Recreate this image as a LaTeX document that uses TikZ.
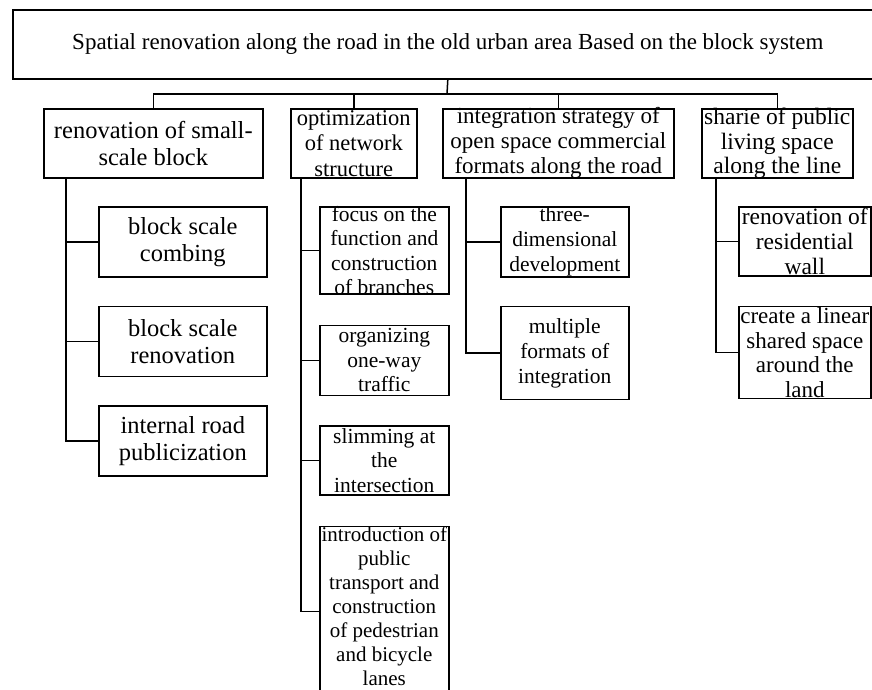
\documentclass[tikz,border=0pt]{standalone}
\usepackage{fontspec}
\setmainfont{Liberation Serif}
\usetikzlibrary{positioning}
\newcommand{\cellbox}[4][c]{\parbox[c][#3][#1]{#2}{\centering #4}}
\tikzset{
  basic/.style = {draw, rectangle, line width=1.6pt, inner sep=0pt, fill=white},
  sz/.style 2 args = {font=\fontsize{#1}{#2}\selectfont},
  root/.style  = {basic, sz={23}{27}},
  link/.style  = {draw, line width=1.5pt}
}

\begin{document}
\begin{tikzpicture}[x=1pt, y=-1pt]
\path[use as bounding box, fill=white] (0,0) rectangle (872,689);

% root of the chart
\node[root, anchor=north west] (root) at (12,9)
  {\cellbox{870pt}{69pt}{Spatial renovation along the road in the old urban area Based on the block system}};

% the four strategies
\node[basic, sz={24.5}{27}, anchor=north west] (h1) at (43,108)
  {\cellbox{219pt}{69pt}{renovation of small-\\scale block}};
\node[basic, sz={22.5}{25.5}, anchor=north west] (h2) at (290,108)
  {\cellbox{126pt}{69pt}{optimization\\of network\\structure}};
\node[basic, sz={23}{25}, anchor=north west] (h3) at (442,108)
  {\cellbox{231pt}{69pt}{integration strategy of\\open space commercial\\formats along the road}};
\node[basic, sz={23.5}{24.5}, anchor=north west] (h4) at (701,108)
  {\cellbox{151pt}{69pt}{sharie of public\\living space\\along the line}};

% measures, chained below each other
\begin{scope}[every node/.style={basic, sz={24.5}{27}}]
  \node[anchor=north west] (c11) at (98,206) {\cellbox{168pt}{70pt}{block scale\\combing}};
  \node[below=28pt of c11] (c12) {\cellbox{168pt}{70pt}{block scale\\renovation}};
  \node[below=28pt of c12] (c13) {\cellbox{168pt}{70pt}{internal road\\publicization}};
\end{scope}

\begin{scope}[every node/.style={basic, sz={21.5}{24.5}}]
  \node[anchor=north west] (c21) at (319,206) {\cellbox{129pt}{87pt}{focus on the\\function and\\construction\\of branches}};
  \node[below=30pt of c21] (c22) {\cellbox{129pt}{70pt}{organizing\\one-way\\traffic}};
  \node[below=29pt of c22] (c23) {\cellbox{129pt}{69pt}{slimming at\\the\\intersection}};
  \node[below=30pt of c23, sz={21}{24}] (c24) {\cellbox[t]{129pt}{170pt}{introduction of\\public\\transport and\\construction\\of pedestrian\\and bicycle\\lanes}};
\end{scope}

\begin{scope}[every node/.style={basic, sz={21.5}{25}}]
  \node[anchor=north west] (c31) at (500,206) {\cellbox{128pt}{70pt}{three-\\dimensional\\development}};
  \node[below=28pt of c31] (c32) {\cellbox{128pt}{93pt}{multiple\\formats of\\integration}};
\end{scope}

\begin{scope}[every node/.style={basic, sz={23.5}{25}}]
  \node[anchor=north west] (c41) at (738,206) {\cellbox{132pt}{69pt}{renovation of\\residential\\wall}};
  \node[below=29pt of c41, sz={23}{24.5}] (c42) {\cellbox{132pt}{92pt}{create a linear\\shared space\\around the\\land}};
\end{scope}

% bus from the root to the strategies
\coordinate (bus) at (447,94);
\draw[link] (root.south) -- (bus);
\foreach \value in {1,...,4}
  \draw[link] (h\value.north) |- (bus);

% trunks from each strategy to its measures
\path (h1.south west) ++(23,0) coordinate (t1);
\path (h2.south west) ++(11,0) coordinate (t2);
\path (h3.south west) ++(24,0) coordinate (t3);
\path (h4.south west) ++(15,0) coordinate (t4);

\foreach \value in {1,2,3}
  \draw[link] (t1) |- (c1\value.west);
\foreach \value in {1,...,4}
  \draw[link] (t2) |- (c2\value.west);
\foreach \value in {1,2}
  \draw[link] (t3) |- (c3\value.west);
\foreach \value in {1,2}
  \draw[link] (t4) |- (c4\value.west);
\end{tikzpicture}
\end{document}
